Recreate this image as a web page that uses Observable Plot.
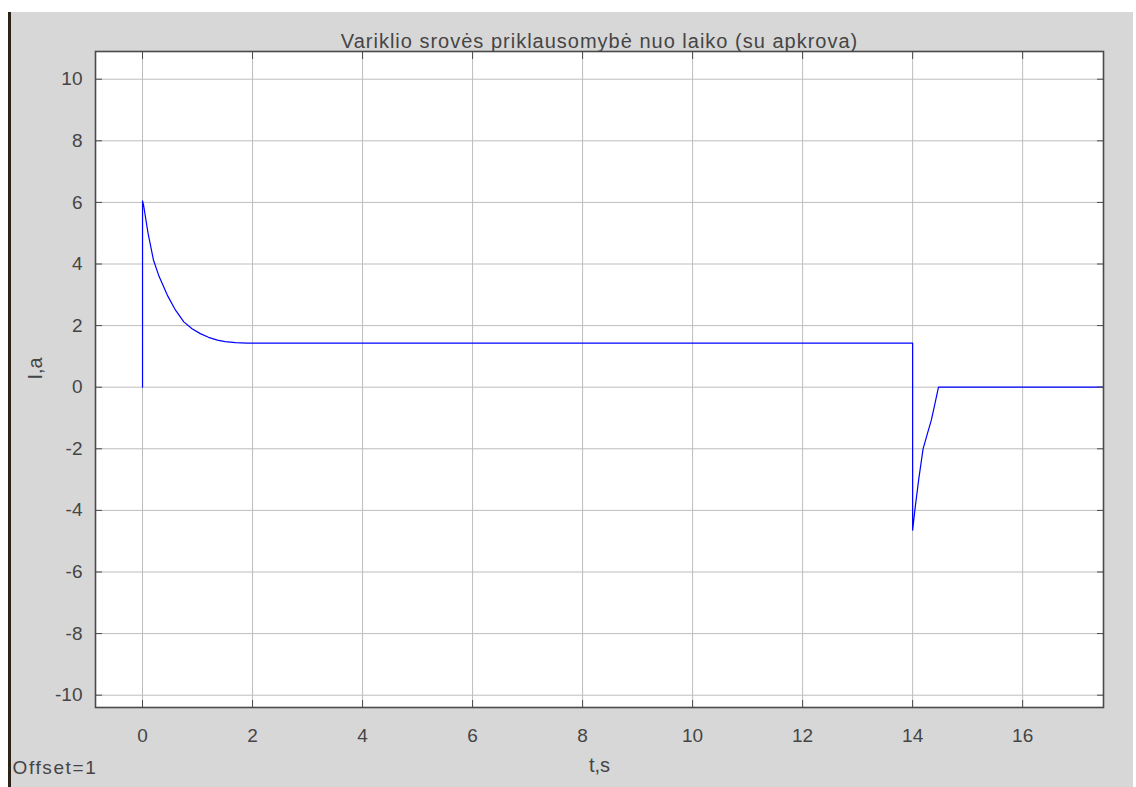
<!DOCTYPE html>
<html>
<head>
<meta charset="utf-8">
<script src="https://cdn.jsdelivr.net/npm/d3@7"></script>
<script src="https://cdn.jsdelivr.net/npm/@observablehq/plot@0.6"></script>
<style>
  html, body { margin: 0; padding: 0; background: #ffffff; width: 1136px; height: 787px; overflow: hidden; }
  #bg { position: absolute; left: 8px; top: 12px; width: 1125px; height: 775px; background: #d7d7d7; border-left: 3px solid #2b2218; box-sizing: border-box; }
  #chart { position: absolute; left: 0; top: 0; }
</style>
</head>
<body>
<div id="bg"></div>
<div id="chart"></div>
<script>
const titleText = "Variklio srovės priklausomybė nuo laiko (su apkrova)";
const xLabel = "t,s";
const yLabel = "I,a";
const offsetText = "Offset=1";

const xTicks = [0, 2, 4, 6, 8, 10, 12, 14, 16];
const yTicks = [-10, -8, -6, -4, -2, 0, 2, 4, 6, 8, 10];

// time (s) and current (A)
const tValues = [0, 0, 0.02, 0.1, 0.2, 0.3, 0.45, 0.6, 0.75, 0.9, 1.05, 1.2, 1.36, 1.5, 1.69, 1.9, 14.0, 14.0, 14.04, 14.11, 14.19, 14.27, 14.34, 14.41, 14.47, 17.5];
const iValues = [0, 6.05, 5.9, 5.0, 4.12, 3.6, 2.99, 2.5, 2.12, 1.9, 1.74, 1.62, 1.53, 1.48, 1.45, 1.43, 1.43, -4.64, -4.0, -3.0, -2.0, -1.5, -1.07, -0.5, 0, 0];

const data = tValues.map((t, k) => ({t, i: iValues[k]}));

const textColor = "#454545";
const fontFamily = "'Liberation Sans', Arial, sans-serif";

const plot = Plot.plot({
  width: 1136,
  height: 787,
  marginLeft: 95,
  marginRight: 33,
  marginTop: 51,
  marginBottom: 80,
  style: {background: "transparent", fontFamily, fontSize: "19px", color: textColor, overflow: "visible"},
  x: {domain: [-0.855, 17.47], label: null},
  y: {domain: [-10.4, 10.9], label: null},
  marks: [
    Plot.frame({fill: "white", stroke: null}),
    Plot.gridX(xTicks, {stroke: "#bdbdbd", strokeOpacity: 1, strokeWidth: 1}),
    Plot.gridY(yTicks, {stroke: "#bdbdbd", strokeOpacity: 1, strokeWidth: 1}),
    Plot.line(data, {x: "t", y: "i", stroke: "#0000ff", strokeWidth: 1.2, clip: true}),
    Plot.frame({stroke: "#4a4a4a", strokeWidth: 1.6}),
    Plot.axisX(xTicks, {anchor: "bottom", tickSize: -7, tickPadding: 28, stroke: "#4a4a4a", fill: textColor, label: null, fontSize: 19, tickFormat: d => String(d)}),
    Plot.axisX(xTicks, {anchor: "top", tickSize: -7, stroke: "#4a4a4a", tickFormat: () => "", label: null}),
    Plot.axisY(yTicks, {anchor: "left", tickSize: -7, tickPadding: 20, stroke: "#4a4a4a", fill: textColor, label: null, fontSize: 19, tickFormat: d => String(d)}),
    Plot.axisY(yTicks, {anchor: "right", tickSize: -7, stroke: "#4a4a4a", tickFormat: () => "", label: null}),
    Plot.text([titleText], {frameAnchor: "top", dy: -18, fill: textColor, fontSize: 20, style: "letter-spacing: 1px"}),
    Plot.text([xLabel], {frameAnchor: "bottom", dy: 64, fill: textColor, fontSize: 20}),
    Plot.text([yLabel], {frameAnchor: "left", dx: -60, rotate: -90, fill: textColor, fontSize: 20}),
    Plot.text([offsetText], {frameAnchor: "bottom-left", dx: -83, dy: 66, textAnchor: "start", fill: textColor, fontSize: 19})
  ]
});
// letter spacing for title and offset text, matching the reference's wide lettering
plot.querySelectorAll("text").forEach(el => {
  if (el.textContent === titleText) el.setAttribute("letter-spacing", "1");
  if (el.textContent === offsetText) el.setAttribute("letter-spacing", "1.6");
});
document.getElementById("chart").appendChild(plot);
</script>
</body>
</html>
